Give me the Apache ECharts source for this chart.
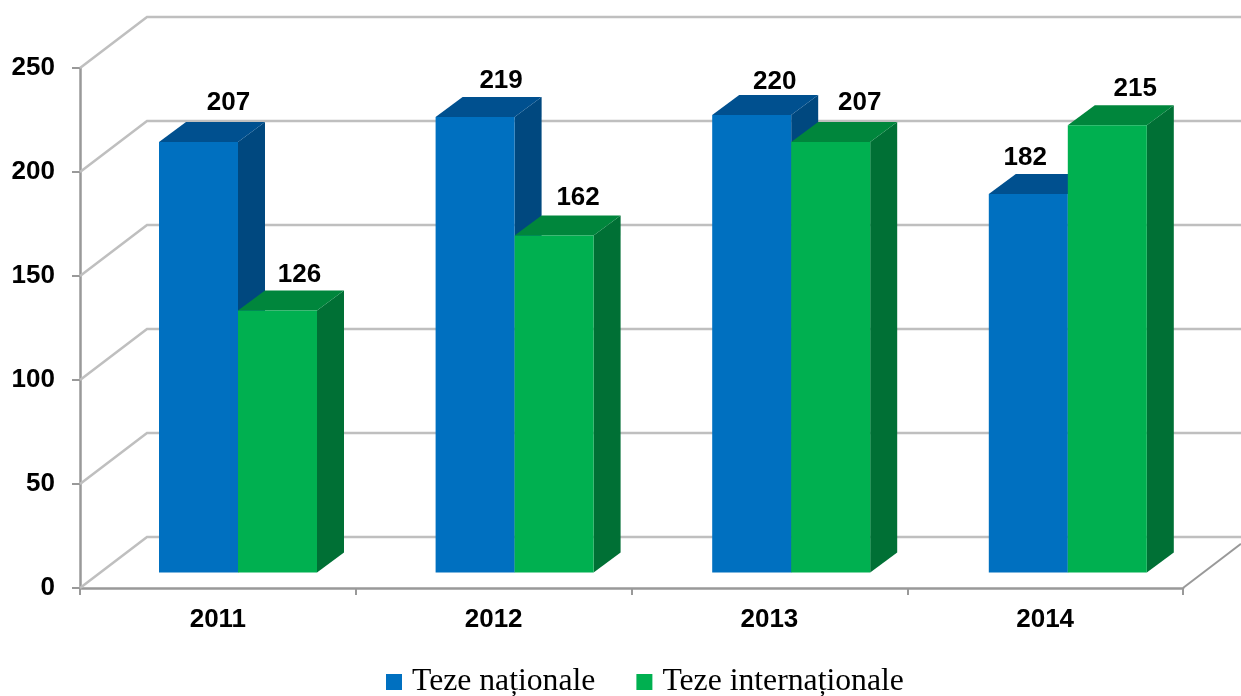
<!DOCTYPE html>
<html>
<head>
<meta charset="utf-8">
<style>html,body{margin:0;padding:0;background:#fff}#c{width:1241px;height:696px}</style>
<script src="https://cdn.jsdelivr.net/npm/echarts@6/dist/echarts.min.js"></script>
</head>
<body>
<div id="c"></div>
<script>
const categories = ['2011', '2012', '2013', '2014'];
const tezeNationale = [207, 219, 220, 182];
const tezeInternationale = [126, 162, 207, 215];
const yTicks = [0, 50, 100, 150, 200, 250];

const nationalNudge = [[30, -39], [26, -36], [23, -33], [-3, -36]];
const internationalNudge = [[22, -36], [24, -38], [29, -39], [28, -36]];

const DEPTH_X = 67, DEPTH_Y = 51, SIDE_X = 27, SIDE_Y = 20, BAR_FRACTION = 79 / 276.6;
const LABEL_FONT = 'bold 26px "Liberation Sans", Arial, sans-serif';

function wallRender(params, api) {
  const cs = params.coordSys;
  const y = api.coord([0, api.value(0)])[1];
  return {
    type: 'polyline',
    shape: { points: [[cs.x, y], [cs.x + DEPTH_X, y - DEPTH_Y], [1241, y - DEPTH_Y]] },
    style: { stroke: '#bfbfbf', lineWidth: 2.5, fill: 'none' },
    silent: true
  };
}

function floorEdgeRender(params, api) {
  const cs = params.coordSys;
  const y = api.coord([0, 0])[1];
  const xr = cs.x + cs.width;
  return {
    type: 'line',
    shape: { x1: xr, y1: y, x2: 1241, y2: y - (1241 - xr) * DEPTH_Y / DEPTH_X },
    style: { stroke: '#999999', lineWidth: 2 },
    silent: true
  };
}

function barRender(side, front, top, dark, nudges) {
  return function (params, api) {
    const i = api.value(0), v = api.value(1);
    const p = api.coord([i, v]), b = api.coord([i, 0]);
    const w = api.size([1, 0])[0] * BAR_FRACTION;
    const x0 = side === 0 ? p[0] - w : p[0];
    const x1 = x0 + w;
    const n = nudges[i];
    return {
      type: 'group',
      children: [
        { type: 'polygon', shape: { points: [[x1, p[1]], [x1 + SIDE_X, p[1] - SIDE_Y], [x1 + SIDE_X, b[1] - SIDE_Y], [x1, b[1]]] }, style: { fill: dark } },
        { type: 'polygon', shape: { points: [[x0, p[1]], [x0 + SIDE_X, p[1] - SIDE_Y], [x1 + SIDE_X, p[1] - SIDE_Y], [x1, p[1]]] }, style: { fill: top } },
        { type: 'rect', shape: { x: x0, y: p[1], width: w, height: b[1] - p[1] }, style: { fill: front } },
        { type: 'text', z2: 50, style: { text: String(v), x: (x0 + x1) / 2 + n[0], y: p[1] + n[1], font: LABEL_FONT, fill: '#000', align: 'center', verticalAlign: 'middle' } }
      ]
    };
  };
}

const chart = echarts.init(document.getElementById('c'), null, { renderer: 'canvas' });
const axisFont = { color: '#000', fontFamily: '"Liberation Sans", Arial, sans-serif', fontWeight: 'bold', fontSize: 26 };

chart.setOption({
  animation: false,
  backgroundColor: '#fff',
  grid: [
    { left: 80, top: 68, width: 1103, height: 520 },
    { left: 99.7, top: 52.5, width: 1106.4, height: 520 }
  ],
  xAxis: [
    {
      type: 'category', gridIndex: 0, data: categories, boundaryGap: true,
      axisLine: { show: true, lineStyle: { color: '#999999', width: 2.5 } },
      axisTick: { show: true, length: 7, lineStyle: { color: '#999999', width: 2 } },
      axisLabel: Object.assign({ margin: 19 }, axisFont),
      splitLine: { show: false }
    },
    { type: 'category', gridIndex: 1, data: categories, show: false }
  ],
  yAxis: [
    {
      type: 'value', gridIndex: 0, min: 0, max: 250, interval: 50,
      axisLine: { show: true, lineStyle: { color: '#999999', width: 2.5 } },
      axisTick: { show: true, length: 8, lineStyle: { color: '#999999', width: 2 } },
      axisLabel: Object.assign({ margin: 25, padding: [6, 0, 0, 0] }, axisFont),
      splitLine: { show: false }
    },
    { type: 'value', gridIndex: 1, min: 0, max: 250, interval: 50, show: false }
  ],
  legend: {
    left: 381, top: 661, itemWidth: 16, itemHeight: 16, itemGap: 41, icon: 'rect',
    data: ['Teze naționale', 'Teze internaționale'],
    textStyle: { fontFamily: '"Liberation Serif", "Times New Roman", serif', fontSize: 31.7, color: '#000', padding: [8, 0, 0, 5] }
  },
  series: [
    { type: 'custom', xAxisIndex: 0, yAxisIndex: 0, clip: false, z: 1, silent: true, data: yTicks.map(v => [v]), renderItem: wallRender, encode: { y: 0 } },
    { type: 'custom', xAxisIndex: 0, yAxisIndex: 0, clip: false, z: 1, silent: true, data: [[0]], renderItem: floorEdgeRender },
    {
      name: 'Teze naționale', type: 'custom', xAxisIndex: 1, yAxisIndex: 1, clip: false, z: 3,
      itemStyle: { color: '#0070c0' },
      data: tezeNationale.map((v, i) => [i, v]),
      encode: { x: 0, y: 1 },
      renderItem: barRender(0, '#0070c0', '#00508f', '#00487f', nationalNudge)
    },
    {
      name: 'Teze internaționale', type: 'custom', xAxisIndex: 1, yAxisIndex: 1, clip: false, z: 4,
      itemStyle: { color: '#00b050' },
      data: tezeInternationale.map((v, i) => [i, v]),
      encode: { x: 0, y: 1 },
      renderItem: barRender(1, '#00b050', '#00863c', '#007035', internationalNudge)
    }
  ]
});
</script>
</body>
</html>
